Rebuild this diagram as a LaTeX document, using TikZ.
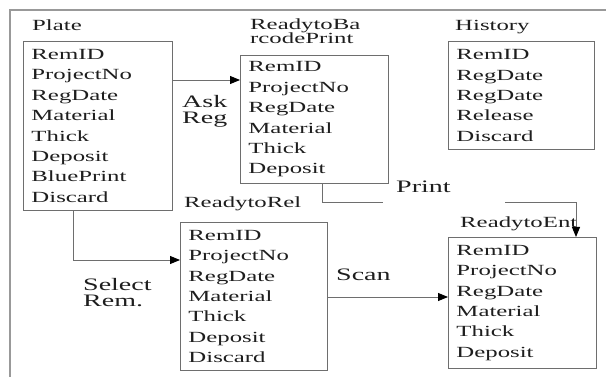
\documentclass[tikz,border=0pt]{standalone}
\usepackage{fontspec}
\setmainfont[FakeStretch=1.6]{Liberation Serif}
\usetikzlibrary{arrows.meta,positioning}
\definecolor{tabgrey}{HTML}{6E6E6E}
\definecolor{txtdark}{HTML}{1E1E1E}

\begin{document}
\begin{tikzpicture}[x=1pt,y=-1pt,
every node/.style={text=txtdark},
tbl/.style 2 args={draw=tabgrey,line width=0.9pt,anchor=north west,inner xsep=8pt,inner ysep=0pt,
  text width=#1,minimum height=#2,align=left,font=\fontsize{15.5}{20.4}\selectfont},
ttl/.style={anchor=base west,inner sep=0pt,align=left,font=\fontsize{15.5}{14.5}\selectfont},
lbl/.style={anchor=base west,inner sep=0pt,align=left,font=\fontsize{17.5}{16.5}\selectfont},
arr/.style={-{Triangle[length=10pt,width=8pt,color=black]},line width=0.9pt,draw=tabgrey},
lin/.style={line width=0.9pt,draw=tabgrey}
]
\useasboundingbox (0,0) rectangle (606,377);
\draw[line width=1.3pt,draw=gray!80] (10,377) -- (10,10) -- (606,10);

% tables
\node[tbl={133pt}{169pt}] (plate) at (23,41)
  {RemID\\ProjectNo\\RegDate\\Material\\Thick\\Deposit\\BluePrint\\Discard};
\node[tbl={132pt}{128pt}] (rbp) at (240,55)
  {RemID\\ProjectNo\\RegDate\\Material\\Thick\\Deposit};
\node[tbl={130pt}{108pt}] (hist) at (448,41)
  {RemID\\RegDate\\RegDate\\Release\\Discard};
\node[tbl={131pt}{148pt}] (rrel) at (180,222)
  {RemID\\ProjectNo\\RegDate\\Material\\Thick\\Deposit\\Discard};
\node[tbl={132pt}{131pt}] (rent) at (448,237)
  {RemID\\ProjectNo\\RegDate\\Material\\Thick\\Deposit};

% titles
\node[ttl] (tplate) at (32,31) {Plate};
\node[ttl] (trbp) at (250,44) {ReadytoBa\\rcodePrint};
\node[ttl] (thist) at (455,31) {History};
\node[ttl] (trrel) at (184,208) {ReadytoRel};
\node[ttl] (trent) at (460,228) {ReadytoEnt};

% labels
\node[lbl] (ask) at (182,124) {Ask\\Reg};
\node[lbl] (print) at (396,193) {Print};
\node[lbl] (select) at (83,307) {Select\\Rem.};
\node[lbl] (scan) at (336,280) {Scan};

\coordinate (pgapL) at (383,202);
\coordinate (pgapR) at (505,202);

\draw[arr] ([yshift=-39pt]plate.north east) -- ([yshift=-39pt]plate.north east -| rbp.west);
\draw[arr] ([xshift=50pt]plate.south west) |- ([yshift=-38pt]rrel.north west);
\draw[lin] ([xshift=82pt]rbp.south west) |- (pgapL);
\draw[arr] (pgapR) -| ([xshift=128pt]rent.north west);
\draw[arr] ([yshift=-75pt]rrel.north east) -- ([yshift=-75pt]rrel.north east -| rent.west);
\end{tikzpicture}
\end{document}
